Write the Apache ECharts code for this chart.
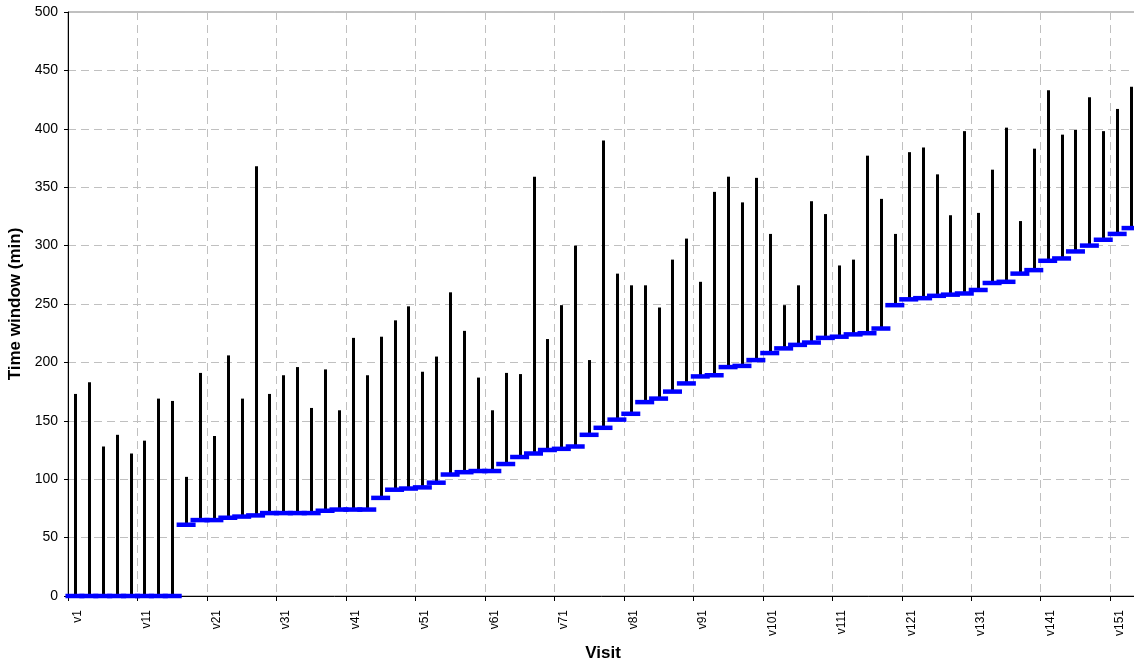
<!DOCTYPE html>
<html>
<head>
<meta charset="utf-8">
<script src="https://cdn.jsdelivr.net/npm/echarts@6/dist/echarts.min.js"></script>
<style>
html,body{margin:0;padding:0;background:#fff;}
#chart{width:1134px;height:665px;}
</style>
</head>
<body>
<div id="chart"></div>
<script>
// Tick labels of the visit axis (v1 ... v154)
const visitLabels = Array.from({length: 154}, (_, i) => 'v' + (i + 1));
// Window start (lower end) for each plotted time window
const windowStart = [
  0,0,0,0,0,0,0,0,
  61,65,65,67,68,
  69,71,71,71,71,73,74,74,74,84,91,92,
  93,97,104,106,107,107,113,119,122,125,126,128,138,
  144,151,156,166,169,175,182,188,189,196,197,202,
  208,212,215,217,221,222,224,225,229,249,254,255,257,258,
  259,262,268,269,276,279,287,289,295,300,305,310,315
];
// Window end (upper end)
const windowEnd = [
  173,183,128,138,122,133,169,167,
  102,191,137,206,169,
  368,173,189,196,161,194,159,221,189,222,236,248,
  192,205,260,227,187,159,191,190,359,220,249,300,202,
  390,276,266,266,247,288,306,269,346,359,337,358,
  310,249,266,338,327,283,288,377,340,310,380,384,361,326,
  398,328,365,401,321,383,433,395,399,427,398,417,436
];
const windowSlots = windowStart.map((_, i) => 'w' + (i + 1));
const yTicks = {min: 0, max: 500, interval: 50};

const chart = echarts.init(document.getElementById('chart'), null, {renderer: 'canvas'});
const font = 'Liberation Sans, Arial, sans-serif';

const rangeData = windowStart.map((s, i) => [i, s, windowEnd[i]]);

chart.setOption({
  animation: false,
  backgroundColor: '#ffffff',
  grid: {left: 68, top: 12, width: 1070, bottom: 69, outerBoundsMode: 'none', containLabel: false,
         show: true, borderColor: '#808080', borderWidth: 1},
  xAxis: [
    {
      type: 'category',
      data: visitLabels,
      boundaryGap: true,
      name: 'Visit',
      nameLocation: 'middle',
      nameGap: 49,
      nameTextStyle: {fontFamily: font, fontWeight: 'bold', fontSize: 17, color: '#000'},
      axisLine: {lineStyle: {color: '#000', width: 1}},
      axisTick: {show: true, interval: 9, alignWithLabel: false, length: 5, lineStyle: {color: '#000'}},
      axisLabel: {interval: 9, rotate: 90, verticalAlign: 'top', fontFamily: font, fontSize: 12, color: '#000', margin: 14},
      splitLine: {show: true, interval: 9, lineStyle: {color: '#c0c0c0', type: [8, 5], width: 1}}
    },
    {
      type: 'category',
      data: windowSlots,
      boundaryGap: true,
      show: false
    }
  ],
  yAxis: {
    type: 'value',
    min: yTicks.min, max: yTicks.max, interval: yTicks.interval,
    name: 'Time window (min)',
    nameLocation: 'middle',
    nameGap: 37,
    nameTextStyle: {fontFamily: font, fontWeight: 'bold', fontSize: 17, color: '#000'},
    axisLine: {show: true, lineStyle: {color: '#000', width: 1}},
    axisTick: {show: true, length: 4, lineStyle: {color: '#000'}},
    axisLabel: {fontFamily: font, fontSize: 14, color: '#000', margin: 10},
    splitLine: {show: true, lineStyle: {color: '#c0c0c0', type: [8, 5], width: 1}}
  },
  series: [
    {
      type: 'custom',
      xAxisIndex: 1,
      data: rangeData,
      encode: {x: 0, y: [1, 2]},
      z: 2,
      renderItem: function (params, api) {
        const x = api.value(0);
        const lo = api.coord([x, api.value(1)]);
        const hi = api.coord([x, api.value(2)]);
        const px = Math.round(lo[0]) + 0.5;
        return {
          type: 'line',
          shape: {x1: px, y1: lo[1], x2: px, y2: hi[1]},
          style: {stroke: '#000000', lineWidth: 3}
        };
      }
    },
    {
      type: 'scatter',
      xAxisIndex: 1,
      data: windowStart,
      symbol: 'rect',
      symbolSize: [19, 4.5],
      itemStyle: {color: '#0000ff', opacity: 1},
      z: 5
    }
  ]
});
</script>
</body>
</html>
